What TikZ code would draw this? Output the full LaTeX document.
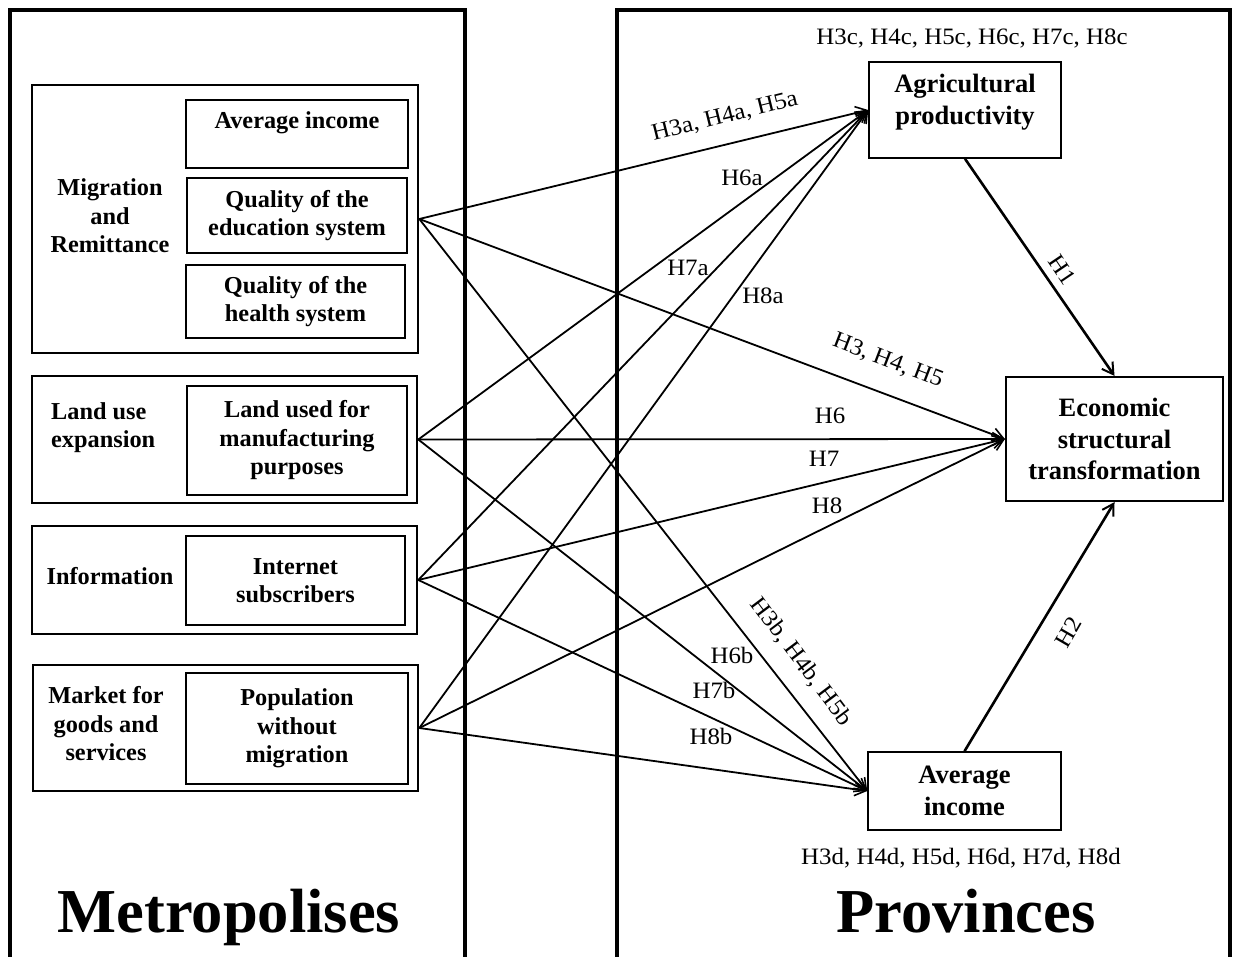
\documentclass[tikz,border=0pt]{standalone}
\usepackage{fontspec}
\setmainfont{Liberation Serif}
\newfontfamily\hypfont[FakeStretch=1.06]{Liberation Serif}
\usetikzlibrary{arrows.meta}
\begin{document}
\begin{tikzpicture}[x=1pt,y=-1pt,
  frame/.style={line width=3.2pt},
  groupbox/.style={draw,line width=2.6pt,inner sep=0pt},
  itembox/.style={draw,line width=1.3pt,inner sep=0pt},
  mainbox/.style={draw,line width=1.6pt,inner sep=0pt},
  lt/.style={font=\bfseries\fontsize{24.3}{28.5}\selectfont,align=center,inner sep=0pt},
  rt/.style={font=\bfseries\fontsize{26.5}{31.5}\selectfont,align=center,inner sep=0pt},
  hyp/.style={font=\hypfont\fontsize{23.5}{27}\selectfont,inner sep=0pt},
  title/.style={font=\bfseries\fontsize{62.5}{70}\selectfont,inner sep=0pt,anchor=base},
  conn/.style={line width=1.8pt,-{Straight Barb[length=11pt,width=13pt,line width=1.6pt]}},
  thick conn/.style={line width=2.6pt,-{Straight Barb[length=11pt,width=13pt,line width=2pt]}}
]
\useasboundingbox (0,0) rectangle (1234,957);
\fill[white] (0,0) rectangle (1234,957);
% frames
\draw[frame] (10,962) -- (10,10) -- (465,10) -- (465,962);
\draw[frame] (617,962) -- (617,10) -- (1230,10) -- (1230,962);
% left groups
\node[groupbox,minimum width=386pt,minimum height=268pt] (mig) at (225,219) {};
\node[itembox,minimum width=222pt,minimum height=68pt] (avg1) at (297,134) {};
\node[lt] (avg1t) at (297,123) {Average income};
\node[itembox,minimum width=220pt,minimum height=75pt,lt] (edu) at (297,215.5) {Quality of the\\education system};
\node[itembox,minimum width=219pt,minimum height=73pt,lt] (hea) at (295.5,301.5) {Quality of the\\health system};
\node[lt] (migt) at (110,216) {Migration\\and\\Remittance};

\node[groupbox,minimum width=385pt,minimum height=127pt] (land) at (224.5,439.5) {};
\node[itembox,minimum width=220pt,minimum height=109pt,lt] (landin) at (297,440.5) {Land used for\\manufacturing\\purposes};
\node[lt,align=left,anchor=west] (landt) at (51,427.5) {Land use\\expansion};

\node[groupbox,minimum width=385pt,minimum height=108pt] (info) at (224.5,580) {};
\node[itembox,minimum width=219pt,minimum height=89pt,lt] (inter) at (295.5,580.5) {Internet\\subscribers};
\node[lt] (infot) at (110,576) {Information};

\node[groupbox,minimum width=385pt,minimum height=126pt] (mkt) at (225.5,728) {};
\node[itembox,minimum width=222pt,minimum height=111pt,lt] (pop) at (297,728.5) {Population\\without\\migration};
\node[lt] (mktt) at (106,724) {Market for\\goods and\\services};

% right nodes
\node[mainbox,minimum width=192pt,minimum height=96pt] (agri) at (965,110) {};
\node[rt] (agrit) at (965,102) {Agricultural\\productivity};
\node[mainbox,line width=2.2pt,minimum width=217pt,minimum height=124pt,rt] (est) at (1114.5,439) {Economic\\structural\\transformation};
\node[mainbox,minimum width=193pt,minimum height=78pt,rt] (avg2) at (964.5,791) {Average\\income};

\node[hyp] (hc) at (972,38) {H3c, H4c, H5c, H6c, H7c, H8c};
\node[hyp] (hd) at (961,858) {H3d, H4d, H5d, H6d, H7d, H8d};

% titles
\node[title] (metro) at (229,932) {Metropolises};
\node[title] (prov) at (966,932) {Provinces};

% connectors
\draw[conn] (mig.east) -- (agri.west);
\draw[conn] (mig.east) -- (est.west);
\draw[conn] (mig.east) -- (avg2.west);
\draw[conn] (land.east) -- (agri.west);
\draw[conn] (land.east) -- (est.west);
\draw[conn] (land.east) -- (avg2.west);
\draw[conn] (info.east) -- (agri.west);
\draw[conn] (info.east) -- (est.west);
\draw[conn] (info.east) -- (avg2.west);
\draw[conn] (mkt.east) -- (agri.west);
\draw[conn] (mkt.east) -- (est.west);
\draw[conn] (mkt.east) -- (avg2.west);
\draw[thick conn] (agri.south) -- (est.north);
\draw[thick conn] (avg2.north) -- (est.south);

% labels
\node[hyp,rotate=14] (l3a) at (725,117) {H3a, H4a, H5a};
\node[hyp] (l6a) at (742,178) {H6a};
\node[hyp] (l7a) at (688,268) {H7a};
\node[hyp] (l8a) at (763,296) {H8a};
\node[hyp,rotate=-21] (l3) at (888,361) {H3, H4, H5};
\node[hyp] (l6) at (830,416) {H6};
\node[hyp] (l7) at (824,459) {H7};
\node[hyp] (l8) at (827,506) {H8};
\node[hyp,rotate=-53] (l3b) at (801,662) {H3b, H4b, H5b};
\node[hyp] (l6b) at (732,655) {H6b};
\node[hyp] (l7b) at (714,690) {H7b};
\node[hyp] (l8b) at (711,736) {H8b};
\node[hyp,rotate=-56] (l1) at (1062,270) {H1};
\node[hyp,rotate=60] (l2) at (1068,632) {H2};
\end{tikzpicture}
\end{document}
